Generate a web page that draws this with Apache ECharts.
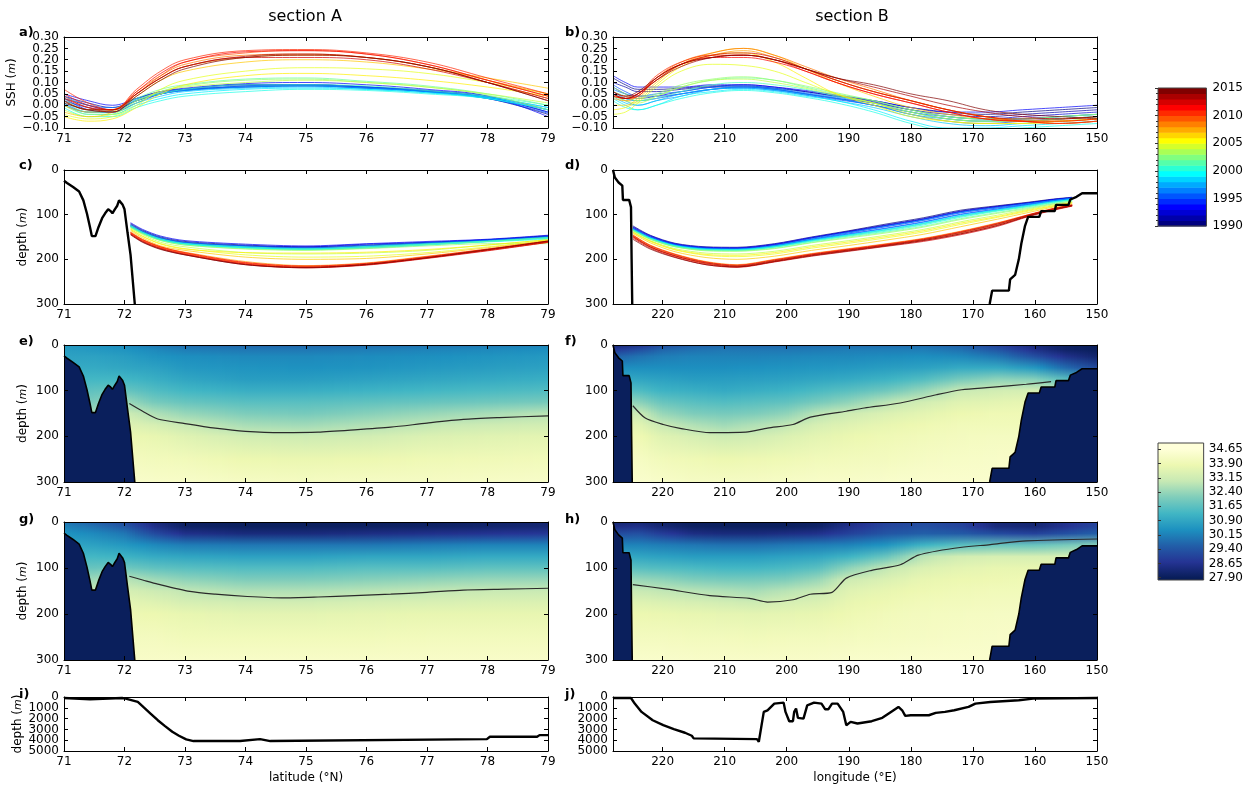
<!DOCTYPE html>
<html>
<head>
<meta charset="utf-8">
<script src="https://cdn.jsdelivr.net/npm/echarts@6/dist/echarts.min.js"></script>
<style>html,body{margin:0;padding:0;background:#fff}#main{width:1246px;height:786px}</style>
</head>
<body>
<div id="main"></div>
<script>
// ---- data ----
var years = [1990,1991,1992,1993,1994,1995,1996,1997,1998,1999,2000,2001,2002,2003,2004,2005,2006,2007,2008,2009,2010,2011,2012,2013,2014,2015];

// a) SSH along section A
var latSSH = [71, 71.4, 71.8, 72.2, 72.6, 73, 74, 75, 76, 77, 78, 79];
var sshA = [
  [0.03, 0.00, -0.02, 0.02, 0.05, 0.07, 0.09, 0.09, 0.08, 0.06, 0.03, -0.04],
  [0.04, 0.01, -0.01, 0.03, 0.06, 0.07, 0.08, 0.085, 0.075, 0.06, 0.035, -0.03],
  [0.02, -0.01, -0.02, 0.02, 0.05, 0.065, 0.085, 0.09, 0.08, 0.065, 0.04, -0.02],
  [0.05, 0.02, 0.00, 0.03, 0.06, 0.075, 0.095, 0.10, 0.09, 0.07, 0.04, -0.05],
  [0.03, -0.02, -0.03, 0.01, 0.05, 0.07, 0.09, 0.09, 0.08, 0.065, 0.035, -0.03],
  [0.01, -0.03, -0.03, 0.02, 0.05, 0.065, 0.08, 0.085, 0.075, 0.06, 0.03, -0.035],
  [0.04, 0.00, -0.01, 0.03, 0.055, 0.07, 0.085, 0.09, 0.08, 0.06, 0.03, -0.02],
  [0.02, -0.02, -0.02, 0.025, 0.05, 0.065, 0.08, 0.085, 0.075, 0.06, 0.035, -0.01],
  [0.00, -0.03, -0.03, 0.01, 0.04, 0.06, 0.075, 0.08, 0.07, 0.055, 0.03, -0.02],
  [0.01, -0.04, -0.04, 0.00, 0.03, 0.05, 0.07, 0.075, 0.07, 0.055, 0.035, -0.01],
  [-0.01, -0.05, -0.05, -0.01, 0.02, 0.04, 0.06, 0.07, 0.065, 0.05, 0.03, -0.02],
  [0.02, -0.03, -0.03, 0.02, 0.05, 0.07, 0.09, 0.09, 0.085, 0.065, 0.04, 0.00],
  [0.03, -0.02, -0.02, 0.03, 0.07, 0.09, 0.115, 0.12, 0.105, 0.085, 0.05, 0.00],
  [0.00, -0.04, -0.04, 0.01, 0.06, 0.085, 0.11, 0.115, 0.10, 0.08, 0.045, -0.02],
  [-0.02, -0.05, -0.04, 0.02, 0.06, 0.08, 0.10, 0.11, 0.10, 0.08, 0.05, 0.01],
  [-0.04, -0.06, -0.05, 0.00, 0.07, 0.11, 0.15, 0.165, 0.16, 0.14, 0.10, 0.05],
  [-0.05, -0.07, -0.06, -0.01, 0.05, 0.09, 0.13, 0.14, 0.13, 0.11, 0.08, 0.04],
  [-0.03, -0.05, -0.03, 0.04, 0.11, 0.15, 0.19, 0.20, 0.19, 0.16, 0.12, 0.075],
  [0.00, -0.03, -0.02, 0.05, 0.12, 0.17, 0.21, 0.22, 0.21, 0.17, 0.11, 0.05],
  [0.02, -0.02, -0.02, 0.06, 0.13, 0.18, 0.22, 0.225, 0.21, 0.17, 0.10, 0.03],
  [0.04, -0.01, -0.02, 0.05, 0.13, 0.19, 0.23, 0.24, 0.225, 0.18, 0.11, 0.04],
  [0.07, 0.01, -0.02, 0.07, 0.15, 0.20, 0.24, 0.245, 0.23, 0.19, 0.12, 0.05],
  [0.05, 0.00, -0.02, 0.06, 0.14, 0.19, 0.235, 0.24, 0.225, 0.18, 0.11, 0.04],
  [0.03, -0.01, -0.03, 0.05, 0.12, 0.17, 0.21, 0.21, 0.20, 0.16, 0.10, 0.03],
  [0.02, -0.02, -0.02, 0.05, 0.12, 0.17, 0.215, 0.225, 0.21, 0.17, 0.10, 0.02],
  [0.01, -0.02, -0.03, 0.04, 0.11, 0.16, 0.21, 0.22, 0.21, 0.17, 0.10, 0.02]
];

// b) SSH along section B
var lonSSH = [228, 226, 224, 221, 217, 212, 207, 202, 197, 192, 186, 180, 174, 168, 162, 156, 150];
var sshB = [
  [0.12, 0.09, 0.07, 0.07, 0.075, 0.085, 0.085, 0.075, 0.06, 0.04, 0.02, -0.01, -0.03, -0.04, -0.03, -0.02, -0.01],
  [0.10, 0.08, 0.06, 0.06, 0.07, 0.08, 0.08, 0.07, 0.05, 0.03, 0.01, -0.02, -0.04, -0.05, -0.04, -0.03, -0.02],
  [0.08, 0.05, 0.03, 0.04, 0.06, 0.08, 0.09, 0.08, 0.06, 0.04, 0.015, -0.02, -0.05, -0.06, -0.05, -0.04, -0.03],
  [0.13, 0.10, 0.08, 0.08, 0.08, 0.09, 0.09, 0.08, 0.065, 0.045, 0.02, -0.01, -0.03, -0.03, -0.02, -0.01, 0.00],
  [0.06, 0.03, 0.02, 0.03, 0.05, 0.07, 0.08, 0.07, 0.05, 0.03, 0.00, -0.03, -0.06, -0.07, -0.06, -0.05, -0.04],
  [0.09, 0.06, 0.04, 0.04, 0.05, 0.07, 0.075, 0.065, 0.045, 0.025, 0.00, -0.04, -0.07, -0.08, -0.07, -0.06, -0.05],
  [0.07, 0.05, 0.04, 0.05, 0.06, 0.08, 0.085, 0.075, 0.055, 0.035, 0.01, -0.03, -0.05, -0.06, -0.06, -0.05, -0.04],
  [0.05, 0.02, 0.00, 0.02, 0.04, 0.07, 0.08, 0.07, 0.05, 0.03, 0.00, -0.04, -0.06, -0.07, -0.07, -0.06, -0.05],
  [0.04, 0.01, 0.00, 0.02, 0.05, 0.07, 0.075, 0.065, 0.045, 0.02, -0.01, -0.05, -0.08, -0.09, -0.08, -0.07, -0.06],
  [0.03, 0.00, -0.02, 0.00, 0.04, 0.06, 0.07, 0.06, 0.04, 0.02, -0.02, -0.07, -0.10, -0.10, -0.09, -0.08, -0.07],
  [0.02, -0.01, -0.02, 0.00, 0.03, 0.055, 0.065, 0.055, 0.035, 0.01, -0.03, -0.08, -0.11, -0.11, -0.10, -0.09, -0.08],
  [0.05, 0.03, 0.02, 0.03, 0.06, 0.09, 0.10, 0.09, 0.07, 0.04, 0.01, -0.03, -0.06, -0.07, -0.07, -0.06, -0.05],
  [0.06, 0.04, 0.02, 0.04, 0.08, 0.11, 0.12, 0.11, 0.08, 0.05, 0.02, -0.02, -0.05, -0.06, -0.06, -0.05, -0.04],
  [0.08, 0.05, 0.03, 0.05, 0.09, 0.115, 0.125, 0.11, 0.085, 0.055, 0.02, -0.02, -0.05, -0.06, -0.06, -0.05, -0.04],
  [0.04, 0.02, 0.01, 0.04, 0.08, 0.11, 0.115, 0.10, 0.075, 0.045, 0.01, -0.03, -0.06, -0.07, -0.07, -0.06, -0.05],
  [-0.04, -0.03, 0.01, 0.08, 0.15, 0.18, 0.175, 0.15, 0.10, 0.05, 0.01, -0.04, -0.07, -0.08, -0.08, -0.07, -0.06],
  [-0.02, -0.01, 0.02, 0.09, 0.17, 0.22, 0.23, 0.19, 0.12, 0.05, 0.00, -0.05, -0.07, -0.08, -0.08, -0.07, -0.06],
  [0.00, 0.00, 0.03, 0.10, 0.18, 0.23, 0.25, 0.22, 0.16, 0.10, 0.04, -0.01, -0.04, -0.06, -0.07, -0.07, -0.06],
  [0.03, 0.02, 0.04, 0.11, 0.18, 0.22, 0.24, 0.21, 0.16, 0.11, 0.06, 0.02, -0.02, -0.05, -0.07, -0.07, -0.06],
  [0.05, 0.03, 0.04, 0.12, 0.19, 0.23, 0.25, 0.22, 0.17, 0.12, 0.07, 0.02, -0.02, -0.05, -0.07, -0.08, -0.07],
  [0.04, 0.03, 0.05, 0.12, 0.18, 0.21, 0.22, 0.20, 0.16, 0.11, 0.06, 0.02, -0.02, -0.05, -0.07, -0.08, -0.07],
  [0.06, 0.04, 0.05, 0.13, 0.19, 0.22, 0.22, 0.20, 0.15, 0.10, 0.05, 0.01, -0.03, -0.06, -0.07, -0.08, -0.07],
  [0.05, 0.03, 0.04, 0.12, 0.18, 0.21, 0.21, 0.19, 0.15, 0.10, 0.05, 0.01, -0.03, -0.06, -0.07, -0.07, -0.06],
  [0.04, 0.03, 0.05, 0.11, 0.18, 0.22, 0.23, 0.21, 0.16, 0.11, 0.06, 0.02, -0.02, -0.05, -0.06, -0.06, -0.05],
  [0.05, 0.03, 0.05, 0.11, 0.17, 0.21, 0.22, 0.20, 0.16, 0.12, 0.08, 0.04, 0.00, -0.03, -0.05, -0.06, -0.05],
  [0.06, 0.04, 0.06, 0.12, 0.18, 0.21, 0.22, 0.20, 0.16, 0.12, 0.09, 0.05, 0.02, -0.02, -0.04, -0.05, -0.06]
];

// c) isohaline depth along section A
var latIso = [72.1, 72.3, 72.6, 73, 74, 75, 76, 77, 78, 79];
var isoA = [
  [120, 135, 150, 160, 168, 172, 168, 162, 156, 147],
  [122, 137, 152, 162, 170, 174, 170, 164, 157, 148],
  [125, 139, 153, 163, 170, 172, 166, 162, 156, 149],
  [118, 133, 148, 158, 166, 170, 165, 160, 155, 146],
  [124, 138, 153, 163, 172, 176, 172, 165, 158, 150],
  [126, 140, 155, 164, 171, 175, 170, 164, 158, 150],
  [123, 137, 152, 162, 170, 174, 169, 163, 157, 149],
  [127, 141, 156, 165, 173, 177, 173, 166, 159, 151],
  [125, 140, 155, 165, 173, 178, 175, 168, 160, 152],
  [128, 142, 157, 166, 174, 177, 172, 166, 160, 153],
  [126, 141, 156, 166, 175, 178, 174, 167, 161, 155],
  [124, 139, 154, 164, 172, 176, 171, 165, 159, 151],
  [127, 142, 158, 168, 176, 179, 174, 167, 160, 152],
  [129, 143, 158, 168, 177, 180, 176, 170, 165, 165],
  [130, 145, 162, 172, 185, 188, 186, 180, 168, 156],
  [132, 148, 165, 176, 190, 195, 193, 185, 172, 158],
  [133, 149, 166, 177, 185, 186, 184, 178, 168, 156],
  [135, 152, 170, 180, 195, 200, 198, 188, 174, 158],
  [138, 155, 172, 184, 205, 214, 208, 193, 177, 160],
  [140, 157, 173, 186, 208, 216, 210, 195, 178, 160],
  [141, 158, 174, 187, 209, 217, 211, 196, 179, 161],
  [142, 159, 175, 188, 210, 218, 212, 197, 180, 162],
  [140, 156, 172, 185, 207, 215, 209, 194, 177, 159],
  [143, 160, 176, 189, 211, 219, 213, 198, 181, 162],
  [144, 161, 177, 190, 212, 219, 212, 197, 179, 160],
  [145, 162, 178, 190, 212, 218, 211, 196, 178, 159]
];

// d) isohaline depth along section B
var lonIso = [224.8, 222, 218, 213, 208, 202, 196, 190, 184, 178, 172, 166, 161, 157, 154];
var isoB = [
  [125, 146, 164, 172, 173, 165, 150, 136, 121, 107, 90, 80, 72, 65, 61],
  [128, 148, 166, 174, 175, 167, 152, 137, 123, 109, 92, 81, 73, 66, 62],
  [130, 150, 167, 175, 176, 168, 153, 139, 125, 111, 94, 83, 74, 67, 63],
  [127, 147, 165, 173, 174, 166, 151, 138, 124, 110, 93, 82, 74, 66, 62],
  [132, 151, 168, 176, 177, 170, 155, 141, 127, 113, 96, 85, 76, 68, 64],
  [130, 150, 167, 175, 177, 170, 156, 143, 130, 116, 99, 87, 77, 69, 64],
  [133, 152, 169, 177, 178, 171, 157, 144, 131, 117, 100, 88, 78, 70, 65],
  [131, 151, 168, 176, 177, 169, 154, 140, 126, 112, 95, 84, 75, 68, 63],
  [134, 153, 170, 178, 179, 172, 158, 146, 134, 120, 103, 90, 80, 71, 66],
  [133, 152, 169, 177, 178, 171, 157, 145, 133, 119, 102, 89, 79, 71, 66],
  [135, 154, 171, 179, 180, 173, 160, 148, 137, 123, 106, 92, 82, 73, 67],
  [134, 153, 170, 178, 179, 172, 159, 147, 135, 121, 104, 91, 81, 72, 67],
  [136, 155, 172, 180, 181, 175, 162, 150, 139, 126, 109, 95, 84, 75, 69],
  [135, 155, 172, 181, 182, 176, 163, 152, 141, 128, 111, 97, 86, 76, 70],
  [138, 158, 176, 186, 188, 182, 169, 158, 146, 133, 116, 101, 88, 78, 72],
  [140, 160, 179, 191, 194, 188, 175, 164, 152, 139, 122, 106, 92, 81, 74],
  [139, 159, 178, 189, 191, 185, 172, 161, 149, 136, 119, 104, 90, 80, 73],
  [142, 163, 183, 196, 200, 193, 180, 169, 157, 144, 127, 110, 95, 83, 76],
  [145, 168, 188, 205, 212, 200, 187, 176, 165, 153, 137, 118, 100, 86, 78],
  [147, 170, 190, 207, 214, 202, 189, 178, 167, 155, 139, 120, 101, 87, 79],
  [148, 172, 192, 209, 216, 204, 190, 179, 168, 156, 141, 122, 102, 88, 80],
  [150, 173, 193, 210, 217, 205, 191, 180, 169, 158, 143, 124, 103, 89, 80],
  [146, 169, 189, 206, 213, 201, 188, 177, 166, 154, 138, 119, 100, 86, 78],
  [152, 175, 195, 212, 218, 206, 193, 182, 171, 160, 145, 126, 104, 90, 81],
  [149, 172, 192, 208, 215, 203, 190, 179, 168, 156, 140, 121, 101, 87, 79],
  [155, 177, 196, 212, 217, 205, 192, 181, 170, 158, 143, 124, 103, 89, 80]
];

// sea floor in the upper 300 m
var shelfLat = [71.0, 71.05, 71.15, 71.25, 71.32, 71.38, 71.43, 71.46, 71.52, 71.57, 71.63, 71.68, 71.73, 71.77, 71.8, 71.84, 71.88, 71.91, 71.94, 71.97, 72.0, 72.03, 72.05, 72.1, 72.17];
var shelfDep = [24, 29, 38, 48, 68, 98, 128, 148, 148, 128, 108, 97, 88, 92, 97, 88, 80, 68, 67, 78, 88, 90, 140, 190, 300];
var wallLon = [228, 227.7, 227.1, 226.5, 226.4, 225.4, 225.1, 225.0, 224.9];
var wallDep = [0, 17, 28, 35, 67, 67, 83, 200, 300];
var slopeLon = [167.3, 167.0, 166.9, 164.2, 164.0, 163.2, 162.6, 162.2, 161.6, 161.1, 159.3, 159.0, 156.8, 156.6, 154.6, 154.3, 153.3, 152.4, 150];
var slopeDep = [300, 300, 270, 270, 245, 235, 200, 165, 125, 105, 105, 92, 92, 78, 78, 66, 60, 52, 52];

// e-h) salinity sections: profiles at depth levels for each column
var salDepth = [0, 10, 25, 50, 75, 100, 125, 150, 175, 200, 250, 300];
var salLatA = [71, 71.5, 72, 72.5, 73, 74, 75, 76, 77, 78, 79];
var salE = [
  [30.6, 30.7, 30.8, 31.0, 31.3, 31.6, 32.0, 32.5, 33.0, 33.5, 34.0, 34.3],
  [30.5, 30.6, 30.8, 31.0, 31.3, 31.7, 32.1, 32.6, 33.1, 33.6, 34.0, 34.3],
  [30.3, 30.5, 30.7, 30.9, 31.3, 31.8, 32.5, 33.1, 33.5, 33.8, 34.1, 34.35],
  [30.0, 30.3, 30.5, 30.8, 31.1, 31.5, 32.0, 32.7, 33.3, 33.7, 34.05, 34.3],
  [29.8, 30.1, 30.4, 30.6, 30.9, 31.3, 31.8, 32.4, 33.0, 33.5, 34.0, 34.3],
  [29.7, 30.0, 30.3, 30.5, 30.7, 31.1, 31.6, 32.1, 32.6, 33.2, 33.8, 34.2],
  [29.7, 30.0, 30.3, 30.45, 30.7, 31.1, 31.6, 32.0, 32.5, 33.1, 33.75, 34.15],
  [29.8, 30.1, 30.35, 30.5, 30.8, 31.2, 31.7, 32.2, 32.7, 33.2, 33.8, 34.2],
  [29.9, 30.2, 30.4, 30.6, 30.9, 31.3, 31.8, 32.4, 32.9, 33.4, 33.9, 34.2],
  [30.0, 30.3, 30.5, 30.7, 31.0, 31.4, 31.9, 32.6, 33.1, 33.5, 33.95, 34.25],
  [30.2, 30.4, 30.6, 30.8, 31.1, 31.5, 32.0, 32.8, 33.2, 33.6, 34.0, 34.3]
];
var salG = [
  [30.0, 30.2, 30.5, 30.9, 31.3, 31.8, 32.4, 33.0, 33.4, 33.7, 34.0, 34.3],
  [29.6, 29.9, 30.3, 30.8, 31.3, 31.8, 32.5, 33.1, 33.5, 33.8, 34.1, 34.3],
  [29.2, 29.5, 30.0, 30.6, 31.2, 31.9, 32.8, 33.3, 33.6, 33.85, 34.1, 34.3],
  [28.4, 28.6, 29.2, 30.3, 31.0, 31.7, 32.5, 33.1, 33.5, 33.8, 34.1, 34.3],
  [28.0, 28.1, 28.6, 30.1, 30.9, 31.6, 32.3, 32.9, 33.3, 33.7, 34.0, 34.3],
  [27.95, 28.0, 28.4, 30.0, 30.8, 31.5, 32.1, 32.7, 33.2, 33.6, 34.0, 34.3],
  [27.95, 28.0, 28.4, 30.0, 30.8, 31.5, 32.1, 32.7, 33.2, 33.6, 34.0, 34.3],
  [27.95, 28.05, 28.5, 30.0, 30.9, 31.6, 32.2, 32.8, 33.3, 33.65, 34.0, 34.3],
  [28.0, 28.1, 28.6, 30.1, 30.9, 31.6, 32.3, 32.9, 33.35, 33.7, 34.05, 34.3],
  [28.1, 28.2, 28.7, 30.2, 31.0, 31.7, 32.4, 33.0, 33.4, 33.7, 34.05, 34.3],
  [28.2, 28.3, 28.8, 30.2, 31.0, 31.7, 32.4, 33.0, 33.4, 33.7, 34.05, 34.3]
];
var salLonB = [228, 224, 220, 215, 210, 205, 200, 195, 190, 184, 178, 172, 166, 160, 155, 150];
var salF = [
  [28.3, 28.8, 29.6, 30.4, 31.0, 31.6, 32.4, 33.0, 33.5, 33.9, 34.2, 34.4],
  [28.6, 29.2, 29.9, 30.4, 30.9, 31.5, 32.3, 33.1, 33.6, 33.9, 34.2, 34.4],
  [29.2, 29.7, 30.1, 30.4, 30.8, 31.2, 31.8, 32.4, 33.0, 33.5, 34.0, 34.3],
  [29.6, 29.9, 30.2, 30.4, 30.7, 31.1, 31.6, 32.1, 32.7, 33.3, 33.9, 34.2],
  [29.7, 30.0, 30.2, 30.4, 30.7, 31.0, 31.5, 32.0, 32.5, 33.1, 33.8, 34.2],
  [29.7, 30.0, 30.2, 30.45, 30.75, 31.1, 31.6, 32.1, 32.7, 33.2, 33.85, 34.2],
  [29.7, 30.0, 30.25, 30.5, 30.8, 31.2, 31.7, 32.3, 32.9, 33.4, 33.9, 34.25],
  [29.8, 30.05, 30.3, 30.55, 30.9, 31.4, 32.0, 32.8, 33.3, 33.6, 34.0, 34.3],
  [29.8, 30.1, 30.3, 30.6, 31.0, 31.6, 32.3, 33.1, 33.5, 33.75, 34.05, 34.3],
  [29.8, 30.1, 30.35, 30.7, 31.2, 31.9, 32.8, 33.4, 33.7, 33.9, 34.1, 34.35],
  [29.8, 30.1, 30.4, 30.8, 31.5, 32.4, 33.2, 33.6, 33.85, 34.0, 34.2, 34.4],
  [29.6, 29.9, 30.3, 31.0, 32.0, 33.0, 33.5, 33.8, 34.0, 34.1, 34.25, 34.4],
  [29.0, 29.4, 30.0, 31.0, 32.3, 33.2, 33.6, 33.9, 34.0, 34.15, 34.3, 34.4],
  [28.3, 28.6, 29.3, 30.6, 32.2, 33.3, 33.7, 33.9, 34.0, 34.15, 34.3, 34.4],
  [28.0, 28.1, 28.6, 29.8, 31.6, 33.2, 33.6, 33.9, 34.0, 34.15, 34.3, 34.4],
  [27.9, 27.95, 28.2, 29.2, 31.0, 33.0, 33.5, 33.8, 34.0, 34.1, 34.3, 34.4]
];
var salH = [
  [28.2, 28.5, 29.2, 30.2, 31.0, 31.8, 32.6, 33.2, 33.6, 33.9, 34.2, 34.4],
  [28.3, 28.6, 29.3, 30.2, 30.9, 31.6, 32.4, 33.0, 33.5, 33.8, 34.1, 34.35],
  [28.1, 28.3, 28.9, 30.1, 30.8, 31.5, 32.3, 32.9, 33.4, 33.75, 34.1, 34.35],
  [27.95, 28.05, 28.5, 30.0, 30.7, 31.4, 32.1, 32.8, 33.3, 33.7, 34.05, 34.3],
  [27.95, 28.0, 28.4, 29.9, 30.7, 31.3, 32.0, 32.7, 33.2, 33.65, 34.05, 34.3],
  [27.95, 28.0, 28.4, 29.9, 30.7, 31.3, 32.0, 32.6, 33.1, 33.6, 34.0, 34.3],
  [27.95, 28.0, 28.5, 30.0, 30.8, 31.4, 32.1, 32.8, 33.3, 33.65, 34.05, 34.3],
  [28.0, 28.1, 28.6, 30.1, 30.9, 31.6, 32.4, 33.0, 33.4, 33.7, 34.05, 34.3],
  [28.4, 28.6, 29.0, 30.2, 31.2, 32.3, 33.1, 33.5, 33.7, 33.85, 34.1, 34.35],
  [29.0, 29.1, 29.4, 30.5, 31.8, 32.9, 33.4, 33.7, 33.85, 34.0, 34.15, 34.35],
  [29.2, 29.3, 29.6, 31.2, 32.8, 33.4, 33.7, 33.85, 34.0, 34.1, 34.2, 34.4],
  [29.0, 29.1, 29.5, 31.6, 33.2, 33.6, 33.8, 33.95, 34.05, 34.15, 34.25, 34.4],
  [28.3, 28.4, 29.2, 31.8, 33.3, 33.7, 33.85, 34.0, 34.1, 34.2, 34.3, 34.4],
  [28.2, 28.3, 29.0, 31.8, 33.3, 33.7, 33.9, 34.0, 34.1, 34.2, 34.3, 34.4],
  [28.6, 28.7, 29.3, 32.0, 33.3, 33.7, 33.9, 34.0, 34.1, 34.2, 34.3, 34.4],
  [29.0, 29.1, 29.6, 32.2, 33.4, 33.7, 33.9, 34.0, 34.1, 34.2, 34.3, 34.4]
];

// black contour in e-h
var contELat = [72.08, 72.3, 72.55, 73.0, 73.5, 74.0, 74.6, 75.2, 75.8, 76.4, 77.0, 77.6, 78.2, 79.0];
var contEDep = [128, 145, 162, 172, 182, 189, 192, 191, 186, 180, 171, 163, 159, 155];
var contFLon = [224.8, 222.8, 219.9, 217, 212.4, 206.6, 203.1, 199.0, 196.2, 190.4, 187.5, 181.7, 175.9, 171.8, 167.2, 161.4, 157.4];
var contFDep = [133, 160, 174, 183, 192, 191, 182, 174, 158, 145, 138, 127, 109, 98, 93, 86, 80];
var contGLat = [72.08, 72.3, 72.55, 73.08, 73.5, 74.03, 74.6, 75.2, 75.8, 76.4, 77.0, 77.6, 78.3, 79.0];
var contGDep = [118, 126, 135, 151, 157, 162, 165, 163, 160, 157, 153, 148, 146, 144];
var contHLon = [224.8, 219.3, 212.4, 206.0, 203.1, 199.0, 196.2, 192.7, 190.4, 186.3, 181.7, 178.8, 173.0, 167.2, 161.4, 150.0];
var contHDep = [136, 146, 160, 166, 174, 169, 157, 153, 122, 105, 93, 72, 57, 49, 41, 37];

// i, j) full bottom depth
var bathyLatI = [71, 71.43, 71.96, 72.02, 72.22, 72.31, 72.43, 72.55, 72.67, 72.79, 72.9, 73.02, 73.14, 73.91, 73.94, 74.24, 74.27, 74.41, 74.44, 77.99, 78.04, 78.82, 78.86, 79];
var bathyDepI = [90, 215, 90, 150, 460, 920, 1530, 2150, 2700, 3220, 3590, 3930, 4080, 4080, 3900, 3900, 4080, 4080, 3900, 3900, 3680, 3680, 3530, 3530];
var bathyLonJ = [228, 225.1, 224.5, 223.4, 221.6, 219.9, 218.2, 216.4, 215.3, 215, 204.8, 204.5, 204.3, 203.7, 203.1, 202, 200.5, 200.2, 199.6, 199.0, 198.8, 198.5, 198.2, 197.3, 196.7, 195.6, 194.4, 193.8, 193.3, 192.7, 191.8, 190.9, 190.4, 190.1, 189.7, 188.6, 186.3, 184.6, 183.2, 182.0, 181.4, 180.9, 180, 177.1, 176, 174.5, 173, 170.7, 169.6, 167.2, 162.6, 160.3, 150];
var bathyDepJ = [90, 90, 610, 1380, 2150, 2610, 2980, 3310, 3590, 3830, 3900, 4140, 3990, 1380, 1230, 610, 520, 1380, 2240, 2240, 1380, 1070, 1930, 2000, 770, 520, 610, 1140, 1140, 610, 610, 1380, 2610, 2760, 2300, 2450, 2240, 1930, 1380, 920, 1230, 1750, 1690, 1690, 1470, 1380, 1230, 920, 610, 460, 300, 150, 90];

// tick labels (split in two sets so the densely packed ones all stay visible)
var sshTicksEven = [-0.1, 0, 0.1, 0.2, 0.3];
var sshTicksOdd = [-0.05, 0.05, 0.15, 0.25];
var botTicksEven = [0, 2000, 4000];
var botTicksOdd = [1000, 3000, 5000];

// colour bars
var cbYears = [1990,1991,1992,1993,1994,1995,1996,1997,1998,1999,2000,2001,2002,2003,2004,2005,2006,2007,2008,2009,2010,2011,2012,2013,2014];
var cbSalTicks = [27.90, 28.65, 29.40, 30.15, 30.90, 31.65, 32.40, 33.15, 33.90, 34.65];
var SAL_MIN = 27.9, SAL_MAX = 34.65;

// ---- colour maps ----
function jet(t) {
  function c(v) { return Math.round(255 * Math.max(0, Math.min(1, v))); }
  return 'rgb(' + c(1.5 - Math.abs(4 * t - 3)) + ',' + c(1.5 - Math.abs(4 * t - 2)) + ',' + c(1.5 - Math.abs(4 * t - 1)) + ')';
}
var YGB = ['#ffffd9', '#edf8b1', '#c7e9b4', '#7fcdbb', '#41b6c4', '#1d91c0', '#225ea8', '#253494', '#081d58'];
function hex(h) { return [parseInt(h.substr(1, 2), 16), parseInt(h.substr(3, 2), 16), parseInt(h.substr(5, 2), 16)]; }
function salColor(s) {
  var t = (SAL_MAX - s) / (SAL_MAX - SAL_MIN);
  t = Math.max(0, Math.min(1, t));
  var f = t * 8, i = Math.min(7, Math.floor(f)), u = f - i;
  var a = hex(YGB[i]), b = hex(YGB[i + 1]);
  return 'rgb(' + [0, 1, 2].map(function (k) { return Math.round(a[k] + (b[k] - a[k]) * u); }).join(',') + ')';
}
function zip(xs, ys) { return xs.map(function (x, i) { return [x, ys[i]]; }); }

// ---- layout ----
var FONT = 'DejaVu Sans';
var COLS = [[64, 484], [613, 484]];
var ROWS = [[37, 91], [170, 134], [345, 137], [522, 138], [697, 54]];
var grids = [], xAxes = [], yAxes = [], series = [];

var axA = { min: 71, max: 79, interval: 1 };
var axB = { min: 150, max: 228, inverse: true, ticks: [150, 160, 170, 180, 190, 200, 210, 220] };
var sshFmt = function (v) { return v.toFixed(2).replace('-', '\u2212'); };
var ySSH = { min: -0.1, max: 0.3, interval: 0.05, fmt: sshFmt, split: [sshTicksEven, sshTicksOdd] };
var yDep = { min: 0, max: 300, interval: 100, inverse: true, fmt: function (v) { return String(v); } };
var yBot = { min: 0, max: 5000, interval: 1000, inverse: true, fmt: function (v) { return String(v); }, split: [botTicksEven, botTicksOdd] };

function labelStyle(extra) {
  return Object.assign({ color: '#000', fontSize: 12, margin: 5, fontFamily: FONT, showMinLabel: true, showMaxLabel: true }, extra);
}
function panel(col, row, xa, ya, yname, ygap, xname) {
  var g = grids.length;
  grids.push({ left: COLS[col][0], width: COLS[col][1], top: ROWS[row][0], height: ROWS[row][1] });
  var ix = xAxes.length, iy = yAxes.length;
  [false, true].forEach(function (second) {
    xAxes.push({
      gridIndex: g, type: 'value', position: second ? 'top' : 'bottom', z: 10,
      min: xa.min, max: xa.max, interval: xa.interval, inverse: !!xa.inverse,
      axisLine: { show: true, onZero: false, lineStyle: { color: '#000', width: 1 } },
      axisTick: { show: true, inside: true, length: 4, customValues: xa.ticks, lineStyle: { color: '#000' } },
      axisLabel: labelStyle({ show: !second, customValues: xa.ticks }),
      splitLine: { show: false },
      name: (!second && xname) ? xname : '', nameLocation: 'middle', nameGap: 21,
      nameTextStyle: { color: '#000', fontSize: 12, fontFamily: FONT }
    });
    yAxes.push({
      gridIndex: g, type: 'value', position: second ? 'right' : 'left', z: 10,
      min: ya.min, max: ya.max, interval: ya.interval, inverse: !!ya.inverse,
      axisLine: { show: true, onZero: false, lineStyle: { color: '#000', width: 1 } },
      axisTick: { show: true, inside: true, length: 4, lineStyle: { color: '#000' } },
      axisLabel: labelStyle({ show: !second, formatter: ya.fmt, customValues: ya.split ? ya.split[0] : undefined }),
      splitLine: { show: false },
      name: (!second && yname) ? yname : '', nameLocation: 'middle', nameRotate: 90, nameGap: ygap || 35,
      nameTextStyle: { color: '#000', fontSize: 12, fontFamily: FONT, rich: { m: { fontStyle: 'italic', fontSize: 11, fontFamily: FONT, color: '#000' } } }
    });
  });
  if (ya.split) {
    // second label-only axis on the left, carrying the in-between labels
    yAxes.push({
      gridIndex: g, type: 'value', position: 'left', offset: 0,
      min: ya.min, max: ya.max, interval: ya.interval, inverse: !!ya.inverse,
      axisLine: { show: false }, axisTick: { show: false }, splitLine: { show: false },
      axisLabel: labelStyle({ formatter: ya.fmt, customValues: ya.split[1] })
    });
  }
  return { x: ix, y: iy };
}

function yearLines(p, xs, table, smooth) {
  table.forEach(function (vals, k) {
    series.push({
      type: 'line', xAxisIndex: p.x, yAxisIndex: p.y, data: zip(xs, vals),
      smooth: smooth, showSymbol: false, symbol: 'none', silent: true, z: 3,
      lineStyle: { color: jet((years[k] - 1990) / 25), width: 1, opacity: 0.7 }
    });
  });
}
function floorLine(p, xs, ds, fill) {
  series.push({
    type: 'line', xAxisIndex: p.x, yAxisIndex: p.y, data: zip(xs, ds),
    showSymbol: false, symbol: 'none', silent: true, z: 5,
    lineStyle: { color: '#000', width: fill ? 1.6 : 2.4 },
    areaStyle: fill ? { color: '#0a1f5c', opacity: 1, origin: 'end' } : undefined
  });
}
function contour(p, xs, ds) {
  series.push({
    type: 'line', xAxisIndex: p.x, yAxisIndex: p.y, data: zip(xs, ds), smooth: 0.25,
    showSymbol: false, symbol: 'none', silent: true, z: 4,
    lineStyle: { color: '#2a2a2a', width: 1.2 }
  });
}
// one item per pair of neighbouring profiles; shaded between them like gouraud pcolormesh
function field(p, xs, prof) {
  var data = [];
  for (var i = 0; i < xs.length - 1; i++) data.push([xs[i], xs[i + 1]].concat(prof[i], prof[i + 1]));
  var nz = salDepth.length;
  series.push({
    type: 'custom', xAxisIndex: p.x, yAxisIndex: p.y, data: data, silent: true, z: 2, clip: true,
    encode: { x: [0, 1], y: [2] },
    renderItem: function (params, api) {
      var a = api.coord([api.value(0), 0]), b = api.coord([api.value(1), 300]);
      var n = Math.max(2, Math.ceil(Math.abs(b[0] - a[0]) / 3));
      var children = [];
      for (var j = 0; j < n; j++) {
        var u = (j + 0.5) / n;
        var stops = salDepth.map(function (z, k) {
          var s = api.value(2 + k) * (1 - u) + api.value(2 + nz + k) * u;
          return { offset: z / 300, color: salColor(s) };
        });
        var xa = a[0] + (b[0] - a[0]) * j / n, xb = a[0] + (b[0] - a[0]) * (j + 1) / n;
        children.push({
          type: 'rect',
          shape: { x: Math.min(xa, xb) - 0.5, y: Math.min(a[1], b[1]), width: Math.abs(xb - xa) + 1, height: Math.abs(b[1] - a[1]) },
          style: { fill: new echarts.graphic.LinearGradient(0, 0, 0, 1, stops) }
        });
      }
      return { type: 'group', children: children };
    }
  });
}

var DEPTH = 'depth ({m|m})';
// row 0: SSH
var pA = panel(0, 0, axA, ySSH, 'SSH ({m|m})', 44);
yearLines(pA, latSSH, sshA, 0.4);
var pB = panel(1, 0, axB, ySSH);
yearLines(pB, lonSSH, sshB, 0.4);
// row 1: isohaline depth
var pC = panel(0, 1, axA, yDep, DEPTH, 35);
yearLines(pC, latIso, isoA, 0.3);
floorLine(pC, shelfLat, shelfDep, false);
var pD = panel(1, 1, axB, yDep);
yearLines(pD, lonIso, isoB, 0.3);
floorLine(pD, wallLon, wallDep, false);
floorLine(pD, slopeLon, slopeDep, false);
// rows 2-3: salinity
var pE = panel(0, 2, axA, yDep, DEPTH, 35);
field(pE, salLatA, salE); contour(pE, contELat, contEDep); floorLine(pE, shelfLat, shelfDep, true);
var pF = panel(1, 2, axB, yDep);
field(pF, salLonB, salF); contour(pF, contFLon, contFDep); floorLine(pF, wallLon, wallDep, true); floorLine(pF, slopeLon, slopeDep, true);
var pG = panel(0, 3, axA, yDep, DEPTH, 35);
field(pG, salLatA, salG); contour(pG, contGLat, contGDep); floorLine(pG, shelfLat, shelfDep, true);
var pH = panel(1, 3, axB, yDep);
field(pH, salLonB, salH); contour(pH, contHLon, contHDep); floorLine(pH, wallLon, wallDep, true); floorLine(pH, slopeLon, slopeDep, true);
// row 4: bottom depth
var pI = panel(0, 4, axA, yBot, DEPTH, 40, 'latitude (\u00b0N)');
floorLine(pI, bathyLatI, bathyDepI, false);
var pJ = panel(1, 4, axB, yBot, null, 0, 'longitude (\u00b0E)');
floorLine(pJ, bathyLonJ, bathyDepJ, false);

// colour bars
function cbGrid(top, height, ymin, ymax, yaxis) {
  var g = grids.length;
  grids.push({ left: 1158, width: 49, top: top, height: height });
  var p = { x: xAxes.length, y: yAxes.length };
  xAxes.push({ gridIndex: g, type: 'value', min: 0, max: 1, show: false });
  yAxes.push(Object.assign({
    gridIndex: g, type: 'value', position: 'right', min: ymin, max: ymax, z: 10,
    axisLine: { show: false }, splitLine: { show: false }
  }, yaxis));
  return p;
}
var pY = cbGrid(88, 138, 1990, 2015, {
  interval: 5,
  axisTick: { show: true, inside: true, length: 3, lineStyle: { color: '#333' } },
  minorTick: { show: true, splitNumber: 5, length: 2, lineStyle: { color: '#333' } },
  axisLabel: labelStyle({ margin: 6, formatter: function (v) { return String(v); } })
});
series.push({
  type: 'custom', xAxisIndex: pY.x, yAxisIndex: pY.y, data: cbYears, silent: true, z: 2,
  encode: { y: 0 },
  renderItem: function (params, api) {
    var y = api.value(0);
    var a = api.coord([0, y + 1]), b = api.coord([1, y]);
    return { type: 'rect', shape: { x: a[0], y: a[1], width: b[0] - a[0], height: b[1] - a[1] + 0.5 },
      style: { fill: jet((y - 1990) / 24) } };
  }
});
series.push({
  type: 'custom', xAxisIndex: pY.x, yAxisIndex: pY.y, data: [[1990, 2015]], silent: true, z: 3,
  encode: { y: [0, 1] },
  renderItem: function (params, api) {
    var a = api.coord([0, api.value(1)]), b = api.coord([1, api.value(0)]);
    return { type: 'rect', shape: { x: a[0], y: a[1], width: b[0] - a[0], height: b[1] - a[1] },
      style: { fill: null, stroke: '#444', lineWidth: 1 } };
  }
});
var CB_LO = 27.78, CB_HI = 34.98;
var pS = cbGrid(443, 137, CB_LO, CB_HI, {
  axisTick: { show: true, inside: false, length: 3, customValues: cbSalTicks, lineStyle: { color: '#333' } },
  axisLabel: labelStyle({ customValues: cbSalTicks, formatter: function (v) { return v.toFixed(2); } })
});
series.push({
  type: 'custom', xAxisIndex: pS.x, yAxisIndex: pS.y, data: [[CB_LO, CB_HI]], silent: true, z: 2,
  encode: { y: [0, 1] },
  renderItem: function (params, api) {
    var lo = api.value(0), hi = api.value(1);
    var a = api.coord([0, hi]), b = api.coord([1, lo]);
    var stops = [];
    for (var k = 0; k <= 8; k++) {
      var s = SAL_MIN + k * (SAL_MAX - SAL_MIN) / 8;
      stops.push({ offset: (hi - s) / (hi - lo), color: salColor(s) });
    }
    stops.push({ offset: 0, color: salColor(hi) });
    stops.push({ offset: 1, color: salColor(lo) });
    stops.sort(function (p, q) { return p.offset - q.offset; });
    return { type: 'rect', shape: { x: a[0], y: a[1], width: b[0] - a[0], height: b[1] - a[1] },
      style: { fill: new echarts.graphic.LinearGradient(0, 0, 0, 1, stops), stroke: '#444', lineWidth: 1 } };
  }
});

// titles and panel letters
var graphics = [
  { type: 'text', x: 305, y: 17, style: { text: 'section A', font: '16px "DejaVu Sans"', fill: '#000', align: 'center', verticalAlign: 'middle' } },
  { type: 'text', x: 852, y: 17, style: { text: 'section B', font: '16px "DejaVu Sans"', fill: '#000', align: 'center', verticalAlign: 'middle' } }
];
var letters = ['a)', 'b)', 'c)', 'd)', 'e)', 'f)', 'g)', 'h)', 'i)', 'j)'];
var letterY = [33, 166, 342, 520, 695];
letters.forEach(function (t, i) {
  graphics.push({ type: 'text', x: i % 2 === 0 ? 19 : 565, y: letterY[Math.floor(i / 2)],
    style: { text: t, font: 'bold 13px "DejaVu Sans"', fill: '#000', verticalAlign: 'middle' } });
});

var chart = echarts.init(document.getElementById('main'), null, { renderer: 'canvas' });
chart.setOption({
  animation: false,
  backgroundColor: '#fff',
  textStyle: { fontFamily: FONT },
  grid: grids,
  xAxis: xAxes,
  yAxis: yAxes,
  series: series,
  graphic: graphics
});
</script>
</body>
</html>
